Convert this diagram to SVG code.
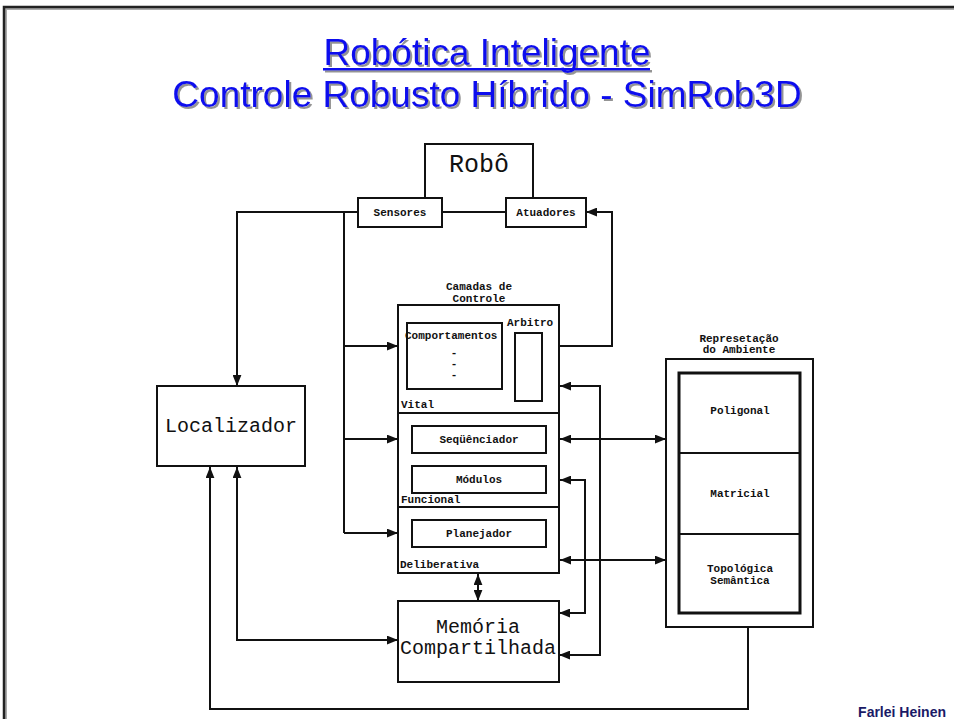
<svg xmlns="http://www.w3.org/2000/svg" width="954" height="719" viewBox="0 0 954 719">
<defs>
<style>
.box{fill:#fff;stroke:#111;stroke-width:2}
.thin{fill:none;stroke:#111;stroke-width:1.5}
.ln{fill:none;stroke:#111;stroke-width:2}
.sm{font-family:"Liberation Mono","DejaVu Sans Mono",monospace;font-size:11px;font-weight:bold;fill:#111}
.big{font-family:"Liberation Mono","DejaVu Sans Mono",monospace;font-size:20px;fill:#111}
.title{font-family:"Liberation Sans",Arial,sans-serif;font-size:37px;text-anchor:middle;fill:#0a0aee}
</style>
<filter id="sh" x="-5%" y="-20%" width="110%" height="150%">
<feDropShadow dx="2" dy="2" stdDeviation="0.4" flood-color="#888" flood-opacity="0.9"/>
</filter>
<marker id="ah" viewBox="0 0 10 8" refX="10" refY="4" markerWidth="11" markerHeight="9" markerUnits="userSpaceOnUse" orient="auto-start-reverse">
<path d="M0,0 L10,4 L0,8 z" fill="#111"/>
</marker>
</defs>
<rect width="954" height="719" fill="#fff"/>
<g id="frame">
<path d="M6,719 V9 H954" fill="none" stroke="#aaa" stroke-width="2"/>
<path d="M4,719 V7 H954" fill="none" stroke="#222" stroke-width="2.5"/>
</g>
<g id="title" filter="url(#sh)">
<text class="title" x="487" y="65">Robótica Inteligente</text>
<rect x="323" y="68" width="327" height="2.5" fill="#0a0aee"/>
<text class="title" x="487" y="107">Controle Robusto Híbrido - SimRob3D</text>
</g>
<g id="connectors">
<path class="ln" d="M442,212 H506"/>
<path class="ln" d="M358,212 H237 V386" marker-end="url(#ah)"/>
<path class="ln" d="M344,212 V533"/>
<path class="ln" d="M344,346 H398" marker-end="url(#ah)"/>
<path class="ln" d="M344,439 H398" marker-end="url(#ah)"/>
<path class="ln" d="M344,533 H398" marker-end="url(#ah)"/>
<path class="thin" d="M502,358 L515,367"/>
<path class="ln" d="M542,367 L559,346 H612 V212 H586" marker-end="url(#ah)"/>
<path class="ln" d="M560,386 H600 V655 H559" marker-start="url(#ah)" marker-end="url(#ah)"/>
<path class="ln" d="M560,480 H585 V613 H559" marker-start="url(#ah)" marker-end="url(#ah)"/>
<path class="ln" d="M560,439 H666" marker-start="url(#ah)" marker-end="url(#ah)"/>
<path class="ln" d="M560,560 H666" marker-start="url(#ah)" marker-end="url(#ah)"/>
<path class="ln" d="M478,574 V601" marker-start="url(#ah)" marker-end="url(#ah)"/>
<path class="ln" d="M237,467 V640 H398" marker-start="url(#ah)" marker-end="url(#ah)"/>
<path class="ln" d="M748,627 V709 H210 V467" marker-end="url(#ah)"/>
</g>
<g id="robo">
<path class="ln" d="M425,198 V144 H533 V198"/>
<text class="big" x="479" y="172" text-anchor="middle" style="font-size:25px">Robô</text>
</g>
<g id="sensores">
<rect class="box" x="358" y="198" width="84" height="29"/>
<text class="sm" x="400" y="216" text-anchor="middle">Sensores</text>
</g>
<g id="atuadores">
<rect class="box" x="506" y="198" width="80" height="29"/>
<text class="sm" x="546" y="216" text-anchor="middle">Atuadores</text>
</g>
<g id="camadas">
<text class="sm" x="479" y="290" text-anchor="middle">Camadas de</text>
<text class="sm" x="479" y="302" text-anchor="middle">Controle</text>
<rect class="box" x="398" y="305" width="161" height="268"/>
<path class="ln" d="M398,413 H559 M398,507 H559"/>
<text class="sm" x="401" y="408">Vital</text>
<text class="sm" x="401" y="503">Funcional</text>
<text class="sm" x="400" y="568">Deliberativa</text>
</g>
<g id="comportamentos">
<rect class="box" x="407" y="323" width="95" height="66"/>
<text class="sm" x="405" y="339">Comportamentos</text>
<text class="sm" x="454" y="356" text-anchor="middle">-</text>
<text class="sm" x="454" y="367" text-anchor="middle">-</text>
<text class="sm" x="454" y="378" text-anchor="middle">-</text>
</g>
<g id="arbitro">
<rect class="box" x="515" y="333" width="27" height="68"/>
<text class="sm" x="507" y="326">Arbitro</text>
</g>
<g id="sequenciador">
<rect class="box" x="412" y="426" width="134" height="27"/>
<text class="sm" x="479" y="443" text-anchor="middle">Seqüênciador</text>
</g>
<g id="modulos">
<rect class="box" x="412" y="466" width="134" height="27"/>
<text class="sm" x="479" y="483" text-anchor="middle">Módulos</text>
</g>
<g id="planejador">
<rect class="box" x="412" y="520" width="134" height="27"/>
<text class="sm" x="479" y="537" text-anchor="middle">Planejador</text>
</g>
<g id="localizador">
<rect class="box" x="157" y="386" width="148" height="80"/>
<text class="big" x="231" y="432" text-anchor="middle">Localizador</text>
</g>
<g id="memoria">
<rect class="box" x="398" y="601" width="161" height="81"/>
<text class="big" x="478" y="633" text-anchor="middle">Memória</text>
<text class="big" x="478" y="654" text-anchor="middle">Compartilhada</text>
</g>
<g id="representacao">
<text class="sm" x="739" y="342" text-anchor="middle">Represetação</text>
<text class="sm" x="739" y="353" text-anchor="middle">do Ambiente</text>
<rect class="box" x="666" y="359" width="147" height="268"/>
<rect fill="#fff" stroke="#111" stroke-width="3" x="679" y="373" width="121" height="240"/>
<path class="ln" d="M679,453 H800 M679,534 H800"/>
<text class="sm" x="740" y="414" text-anchor="middle">Poligonal</text>
<text class="sm" x="740" y="497" text-anchor="middle">Matricial</text>
<text class="sm" x="740" y="572" text-anchor="middle">Topológica</text>
<text class="sm" x="740" y="584" text-anchor="middle">Semântica</text>
</g>
<g id="footer">
<text x="946" y="717" text-anchor="end" style="font-family:'Liberation Sans',Arial,sans-serif;font-size:14px;font-weight:bold;fill:#1a1a66">Farlei Heinen</text>
</g>
</svg>
